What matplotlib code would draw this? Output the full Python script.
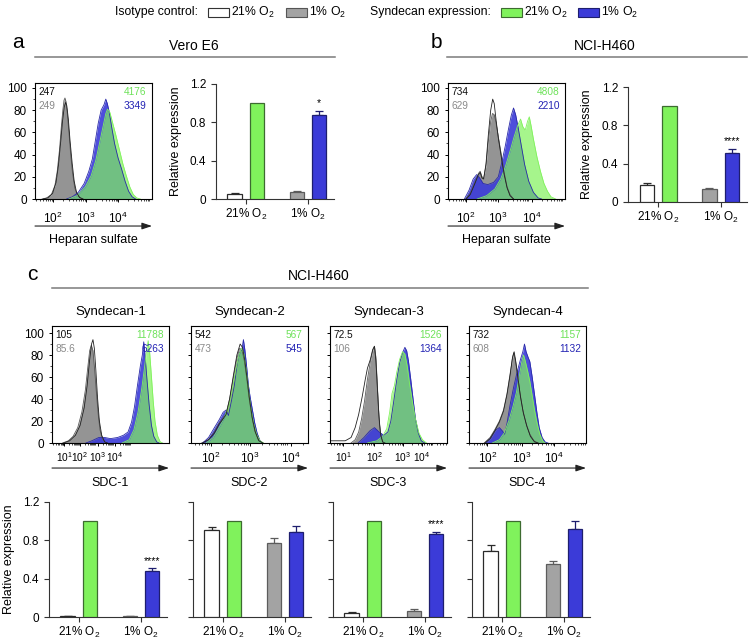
import numpy as np
import matplotlib
matplotlib.use("Agg")
import matplotlib.pyplot as plt
from matplotlib.lines import Line2D
from matplotlib.patches import Rectangle

plt.rcParams['font.family'] = ['Liberation Sans', 'DejaVu Sans']
plt.rcParams['mathtext.fontset'] = 'custom'
plt.rcParams['mathtext.rm'] = 'Liberation Sans'
plt.rcParams['mathtext.it'] = 'Liberation Sans:italic'
plt.rcParams['mathtext.bf'] = 'Liberation Sans:bold'
plt.rcParams['mathtext.default'] = 'regular'

W, H = 750, 641

# colours
GREEN = '#80f25c'
BLUE = '#3b3bd8'
GRAY = '#a3a3a3'
HIST_GRAY = '#8e8e8e'

# ---- flow histograms: (channel, % of max) ----
# panel a, Vero E6
vero_iso21 = [(70, 0), (110, 1), (150, 5), (180, 15), (200, 30), (220, 52), (235, 70), (250, 83),
              (262, 87), (272, 84), (285, 72), (300, 52), (318, 32), (335, 16), (355, 6),
              (380, 1.5), (410, 0)]
vero_iso1 = [(60, 0), (100, 1), (140, 4), (170, 12), (190, 25), (210, 45), (225, 65), (238, 80),
             (248, 89), (256, 91), (264, 88), (275, 78), (290, 60), (305, 40), (320, 24),
             (340, 10), (360, 4), (385, 1), (410, 0)]
vero_sdc21 = [(290, 0), (360, 3), (430, 11), (480, 21), (520, 35), (555, 52), (585, 67), (605, 77),
              (620, 81), (640, 78), (660, 70), (690, 58), (720, 45), (750, 32), (780, 21),
              (810, 11), (840, 4), (870, 1), (900, 0)]
vero_sdc1 = [(270, 0), (320, 2), (370, 6), (420, 14), (460, 25), (490, 36), (515, 52), (540, 68),
             (565, 80), (590, 85), (605, 90), (618, 86), (635, 78), (655, 65), (680, 50),
             (710, 37), (740, 27), (770, 16), (800, 7), (830, 2), (860, 0)]
vero_mfi = ['247', '249', '4176', '3349']
vero_ticks = [154, 436, 709]

# panel b, NCI-H460
h460_iso21 = [(155, 0), (190, 4), (230, 14), (260, 22), (275, 24), (290, 19), (305, 18), (325, 32),
              (345, 58), (365, 80), (382, 90), (395, 86), (410, 72), (430, 55), (455, 38),
              (480, 22), (505, 10), (530, 3), (560, 0)]
h460_iso1 = [(150, 0), (190, 5), (230, 15), (260, 23), (275, 25), (290, 20), (305, 19), (325, 30),
             (345, 52), (365, 70), (380, 77), (395, 76), (410, 69), (430, 56), (455, 40),
             (480, 24), (505, 11), (530, 4), (560, 0)]
h460_sdc21 = [(250, 0), (330, 3), (400, 9), (450, 18), (490, 29), (530, 43), (565, 56), (595, 66),
              (620, 72), (640, 65), (660, 62), (680, 70), (695, 74), (710, 66), (730, 54),
              (760, 38), (790, 25), (820, 14), (850, 7), (880, 2), (920, 0)]
h460_sdc1 = [(140, 0), (180, 8), (215, 18), (245, 22), (270, 19), (300, 14), (340, 13), (390, 15),
             (430, 20), (460, 33), (490, 48), (515, 62), (540, 75), (560, 82), (578, 76),
             (600, 64), (625, 49), (655, 31), (690, 16), (730, 6), (770, 1), (800, 0)]
h460_mfi = ['734', '629', '4808', '2210']
h460_ticks = [154, 427, 718]

# panel c, syndecans 1-4
sdc1_iso21 = [(100, 0), (150, 2), (200, 7), (240, 16), (275, 32), (300, 52), (320, 74), (338, 90),
              (350, 94), (362, 86), (375, 66), (390, 40), (405, 20), (425, 7), (450, 1), (475, 0)]
sdc1_iso1 = [(90, 0), (140, 2), (180, 6), (220, 14), (255, 28), (285, 48), (305, 68), (322, 84),
             (336, 89), (350, 84), (365, 66), (380, 45), (395, 26), (410, 12), (430, 4), (460, 0)]
sdc1_sdc21 = [(600, 0), (660, 3), (700, 12), (735, 28), (765, 48), (790, 68), (808, 84), (822, 93),
              (835, 82), (850, 60), (865, 38), (880, 20), (900, 7), (925, 1), (945, 0)]
sdc1_sdc1 = [(290, 0), (340, 2), (400, 5), (450, 5), (500, 4), (560, 5), (610, 7), (650, 10),
             (680, 19), (705, 33), (730, 52), (755, 70), (772, 80), (784, 92), (795, 80),
             (810, 60), (830, 35), (850, 16), (870, 6), (895, 1), (915, 0)]
sdc1_mfi = ['105', '85.6', '11788', '6263']
sdc1_ticks = [103, 239, 393, 538]

sdc2_iso21 = [(100, 0), (150, 3), (200, 9), (240, 17), (275, 22), (300, 26), (330, 40), (360, 60),
              (392, 80), (420, 90), (440, 87), (460, 75), (480, 58), (500, 40), (525, 22),
              (550, 10), (580, 2), (615, 0)]
sdc2_iso1 = [(90, 0), (150, 3), (200, 10), (240, 18), (275, 23), (300, 27), (330, 40), (360, 58),
             (390, 76), (415, 86), (435, 85), (455, 75), (475, 60), (495, 42), (520, 24),
             (545, 11), (575, 3), (610, 0)]
sdc2_sdc21 = [(130, 0), (190, 5), (240, 14), (280, 22), (320, 33), (355, 50), (385, 68), (410, 80),
              (432, 86), (450, 82), (470, 68), (490, 50), (510, 33), (535, 18), (560, 8),
              (590, 2), (620, 0)]
sdc2_sdc1 = [(100, 0), (150, 5), (200, 14), (240, 21), (275, 28), (300, 30), (320, 25), (345, 38),
             (370, 52), (395, 72), (415, 82), (435, 85), (448, 94), (460, 85), (475, 70),
             (490, 53), (505, 42), (525, 30), (545, 18), (565, 9), (590, 2), (615, 0)]
sdc2_mfi = ['542', '473', '567', '545']
sdc2_ticks = [168, 504, 852]

sdc3_iso21 = [(0, 7), (6, 2), (40, 2), (130, 2), (180, 5), (215, 14), (245, 26), (275, 42),
              (300, 57), (320, 68), (345, 76), (365, 85), (380, 88), (392, 75), (405, 50),
              (418, 25), (432, 8), (450, 1), (470, 0)]
sdc3_iso1 = [(180, 0), (215, 3), (245, 10), (270, 22), (295, 38), (320, 58), (345, 74), (365, 84),
             (380, 88), (392, 78), (402, 58), (412, 36), (422, 18), (435, 6), (455, 0)]
sdc3_sdc21 = [(320, 0), (400, 2), (450, 6), (485, 13), (510, 28), (530, 45), (550, 52), (570, 64),
              (595, 76), (620, 83), (640, 81), (660, 70), (680, 54), (705, 37), (730, 22),
              (760, 9), (790, 3), (825, 0)]
sdc3_sdc1 = [(240, 0), (290, 5), (340, 11), (380, 14), (420, 10), (460, 7), (495, 10), (520, 20),
             (545, 38), (570, 57), (595, 73), (620, 82), (640, 87), (655, 84), (670, 75),
             (690, 58), (710, 40), (730, 22), (755, 9), (780, 2), (810, 0)]
sdc3_mfi = ['72.5', '106', '1526', '1364']
sdc3_ticks = [114, 376, 624, 786]

sdc4_iso21 = [(135, 0), (180, 4), (220, 11), (260, 19), (295, 29), (325, 44), (352, 62), (372, 78),
              (386, 83), (400, 74), (420, 58), (440, 42), (465, 27), (495, 15), (525, 6),
              (560, 1), (590, 0)]
sdc4_iso1 = [(130, 0), (180, 5), (220, 12), (260, 20), (295, 30), (325, 45), (350, 62), (370, 76),
             (382, 82), (395, 76), (415, 62), (435, 46), (460, 30), (490, 17), (520, 8),
             (555, 2), (590, 0)]
sdc4_sdc21 = [(200, 0), (260, 3), (300, 9), (340, 20), (375, 33), (405, 46), (430, 61), (450, 73),
              (466, 80), (480, 75), (500, 66), (520, 56), (540, 43), (560, 30), (580, 19),
              (605, 8), (630, 2), (650, 0)]
sdc4_sdc1 = [(145, 0), (190, 5), (230, 12), (260, 14), (285, 11), (305, 8), (325, 18), (350, 34),
             (380, 50), (410, 64), (440, 76), (460, 83), (474, 90), (488, 83), (505, 78),
             (520, 74), (540, 60), (560, 44), (580, 28), (600, 14), (625, 5), (650, 1), (675, 0)]
sdc4_mfi = ['732', '608', '1157', '1132']
sdc4_ticks = [156, 450, 726]

# ---- relative expression bars: [21% O2, 1% O2] ----
vero_iso, vero_iso_err = [0.056, 0.07], [0.008, 0.01]
vero_sdc, vero_sdc_err = [1.0, 0.875], [0.0, 0.045]
vero_star = '*'
h460_iso, h460_iso_err = [0.174, 0.139], [0.022, 0.012]
h460_sdc, h460_sdc_err = [1.0, 0.51], [0.0, 0.045]
h460_star = '****'
sdc1_iso, sdc1_iso_err = [0.01, 0.01], [0.004, 0.004]
sdc1_sdc, sdc1_sdc_err = [1.0, 0.48], [0.0, 0.03]
sdc2_iso, sdc2_iso_err = [0.91, 0.776], [0.027, 0.052]
sdc2_sdc, sdc2_sdc_err = [1.0, 0.89], [0.0, 0.063]
sdc3_iso, sdc3_iso_err = [0.045, 0.065], [0.008, 0.022]
sdc3_sdc, sdc3_sdc_err = [1.0, 0.87], [0.0, 0.022]
sdc4_iso, sdc4_iso_err = [0.685, 0.557], [0.063, 0.027]
sdc4_sdc, sdc4_sdc_err = [1.0, 0.918], [0.0, 0.085]

conditions = ['21% O$_2$', '1% O$_2$']


def px_axes(fig, x0, y0, x1, y1):
    return fig.add_axes([x0 / W, 1 - y1 / H, (x1 - x0) / W, (y1 - y0) / H])


def fig_text(fig, x, y, s, **kw):
    kw.setdefault('va', 'center')
    fig.text(x / W, 1 - y / H, s, **kw)


def fig_line(fig, x0, x1, y):
    fig.add_artist(Line2D([x0 / W, x1 / W], [1 - y / H] * 2, color='#7a7a7a', lw=1.1,
                          transform=fig.transFigure))


def draw_hist(ax, iso21, iso1, sdc21, sdc1, mfi, ticks, first_exp, ytop, show_y,
              arrow_y, label_y, xlabel, pad, xsize=8.5):
    for data, fc, ec, alpha in [(iso1, HIST_GRAY, '#5a5a5a', 0.95),
                                (sdc1, BLUE, '#2a2aa8', 0.9),
                                (sdc21, GREEN, GREEN, 0.7)]:
        arr = np.array(data, dtype=float)
        ax.fill_between(arr[:, 0], arr[:, 1], color=fc, alpha=alpha, lw=0)
        ax.plot(arr[:, 0], arr[:, 1], color=ec, lw=0.6)
    arr = np.array(iso21, dtype=float)
    ax.plot(arr[:, 0], arr[:, 1], color='#222222', lw=0.6)
    ax.set_xlim(0, 1000)
    ax.set_ylim(0, ytop)
    ax.set_xticks(ticks)
    ax.set_xticklabels(['$10^{%d}$' % (first_exp + i) for i in range(len(ticks))])
    # log-style minor ticks between the decade labels
    step = ticks[1] - ticks[0]
    minors = []
    for t0 in [ticks[0] - step] + list(ticks):
        for k in range(2, 10):
            m = t0 + step * np.log10(k)
            if 0 < m < 1000:
                minors.append(m)
    ax.set_xticks(minors, minor=True)
    ax.set_yticks(range(0, 101, 20))
    ax.set_yticks(range(0, 101, 10), minor=True)
    if not show_y:
        ax.set_yticklabels([])
    ax.tick_params(axis='both', which='major', length=2.5, width=0.7, labelsize=8.5)
    ax.tick_params(axis='x', which='major', pad=pad, labelsize=xsize)
    ax.tick_params(axis='both', which='minor', length=1.5, width=0.5)
    for sp in ax.spines.values():
        sp.set_linewidth(0.8)
    ax.text(0.03, 0.925, mfi[0], transform=ax.transAxes, color='#111111', fontsize=7.3,
            ha='left', va='center')
    ax.text(0.03, 0.805, mfi[1], transform=ax.transAxes, color='#8a8a8a', fontsize=7.3,
            ha='left', va='center')
    ax.text(0.955, 0.925, mfi[2], transform=ax.transAxes, color='#6ee25a', fontsize=7.3,
            ha='right', va='center')
    ax.text(0.955, 0.805, mfi[3], transform=ax.transAxes, color='#2424b4', fontsize=7.3,
            ha='right', va='center')
    ax.annotate('', xy=(1.0, arrow_y), xytext=(0.0, arrow_y), xycoords='axes fraction',
                annotation_clip=False,
                arrowprops=dict(arrowstyle='-|>,head_length=0.6,head_width=0.2',
                                color='#222222', lw=0.8, shrinkA=0, shrinkB=0))
    ax.text(0.5, label_y, xlabel, transform=ax.transAxes, ha='center', va='center', fontsize=9)


def draw_bars(ax, iso, iso_err, sdc, sdc_err, star, show_y):
    x = np.arange(len(conditions))
    off, width = 0.18, 0.23
    ax.bar(x - off, iso, width, color=['white', GRAY], edgecolor=['#2a2a2a', '#5c5c5c'],
           linewidth=0.9, zorder=3)
    ax.bar(x + off, sdc, width, color=[GREEN, BLUE], edgecolor=['#3d6b30', '#1e1e6e'],
           linewidth=0.9, zorder=3)
    for xi, v, e, c in zip(x - off, iso, iso_err, ['#2a2a2a', '#5c5c5c']):
        ax.errorbar(xi, v, yerr=[[0], [e]], fmt='none', ecolor=c, capsize=3, elinewidth=0.9,
                    capthick=0.9, zorder=2)
    for xi, v, e, c in zip(x + off, sdc, sdc_err, ['#3d6b30', '#1e1e6e']):
        if e > 0:
            ax.errorbar(xi, v, yerr=[[0], [e]], fmt='none', ecolor=c, capsize=3,
                        elinewidth=0.9, capthick=0.9, zorder=2)
    if star:
        ax.text(x[1] + off, sdc[1] + sdc_err[1] + 0.025, star, ha='center', va='bottom',
                fontsize=7.5)
    ax.set_xlim(-0.48, 1.42)
    ax.set_ylim(0, 1.2)
    ax.set_xticks(x)
    ax.set_xticklabels(conditions)
    ax.set_yticks([0, 0.4, 0.8, 1.2])
    if show_y:
        ax.set_yticklabels(['0', '0.4', '0.8', '1.2'])
        ax.set_ylabel('Relative expression', fontsize=9)
        ax.yaxis.set_label_coords(-0.29, 0.5)
    else:
        ax.set_yticklabels([])
    ax.spines['top'].set_visible(False)
    ax.spines['right'].set_visible(False)
    for sp in ['left', 'bottom']:
        ax.spines[sp].set_linewidth(0.8)
        ax.spines[sp].set_color('#333333')
    ax.tick_params(axis='both', length=3.5, width=0.8, labelsize=8.5, color='#333333')
    ax.tick_params(axis='x', pad=2)


fig = plt.figure(figsize=(W / 100, H / 100), dpi=100)

# legend row
fig_text(fig, 115, 12, 'Isotype control:', fontsize=8.8)
fig_text(fig, 370, 12, 'Syndecan expression:', fontsize=8.8)
for x0, fc, ec, lab in [(208, 'white', '#333333', conditions[0]),
                        (286, GRAY, '#555555', conditions[1]),
                        (501, GREEN, '#3d6b30', conditions[0]),
                        (578, BLUE, '#1e1e6e', conditions[1])]:
    fig.add_artist(Rectangle((x0 / W, 1 - 17 / H), 21 / W, 9 / H, facecolor=fc, edgecolor=ec,
                             lw=0.8, transform=fig.transFigure))
    fig_text(fig, x0 + 23, 12, lab, fontsize=8.8)

# panel a
fig_text(fig, 12, 42, 'a', fontsize=15)
fig_text(fig, 194, 46, 'Vero E6', fontsize=10, ha='center')
fig_line(fig, 35, 335, 57)
ax = px_axes(fig, 35, 83, 152, 199)
draw_hist(ax, vero_iso21, vero_iso1, vero_sdc21, vero_sdc1, vero_mfi, vero_ticks, 2, 104.5,
          True, -0.233, -0.353, 'Heparan sulfate', 6)
ax = px_axes(fig, 216, 84, 334, 199)
draw_bars(ax, vero_iso, vero_iso_err, vero_sdc, vero_sdc_err, vero_star, True)

# panel b
fig_text(fig, 431, 42, 'b', fontsize=15)
fig_text(fig, 605, 46, 'NCI-H460', fontsize=10, ha='center')
fig_line(fig, 447, 747, 57)
ax = px_axes(fig, 448, 83, 565, 199)
draw_hist(ax, h460_iso21, h460_iso1, h460_sdc21, h460_sdc1, h460_mfi, h460_ticks, 2, 104.5,
          True, -0.233, -0.353, 'Heparan sulfate', 6)
ax = px_axes(fig, 628, 87, 747, 202)
draw_bars(ax, h460_iso, h460_iso_err, h460_sdc, h460_sdc_err, h460_star, True)

# panel c
fig_text(fig, 27, 274, 'c', fontsize=15)
fig_text(fig, 319, 276, 'NCI-H460', fontsize=10, ha='center')
fig_line(fig, 52, 588, 288)
hist_sets = [
    (sdc1_iso21, sdc1_iso1, sdc1_sdc21, sdc1_sdc1, sdc1_mfi, sdc1_ticks, 1),
    (sdc2_iso21, sdc2_iso1, sdc2_sdc21, sdc2_sdc1, sdc2_mfi, sdc2_ticks, 2),
    (sdc3_iso21, sdc3_iso1, sdc3_sdc21, sdc3_sdc1, sdc3_mfi, sdc3_ticks, 1),
    (sdc4_iso21, sdc4_iso1, sdc4_sdc21, sdc4_sdc1, sdc4_mfi, sdc4_ticks, 2),
]
bar_sets = [
    (sdc1_iso, sdc1_iso_err, sdc1_sdc, sdc1_sdc_err, '****'),
    (sdc2_iso, sdc2_iso_err, sdc2_sdc, sdc2_sdc_err, None),
    (sdc3_iso, sdc3_iso_err, sdc3_sdc, sdc3_sdc_err, '****'),
    (sdc4_iso, sdc4_iso_err, sdc4_sdc, sdc4_sdc_err, None),
]
hist_left = [52, 191, 330, 469]
bar_left = [49, 193, 333, 472]
for i in range(4):
    ax = px_axes(fig, hist_left[i], 326, hist_left[i] + 117, 443)
    iso21, iso1, s21, s1, mfi, ticks, e0 = hist_sets[i]
    tight = len(ticks) > 3
    draw_hist(ax, iso21, iso1, s21, s1, mfi, ticks, e0, 106.4, i == 0, -0.214, -0.342,
              'SDC-%d' % (i + 1), 3, 7.3 if tight else 8.5)
    ax.text(0.5, 1.12, 'Syndecan-%d' % (i + 1), transform=ax.transAxes, ha='center',
            va='center', fontsize=9.5)
    ax = px_axes(fig, bar_left[i], 502, bar_left[i] + 118, 617)
    draw_bars(ax, *bar_sets[i], i == 0)

fig.savefig('out.png', dpi=100)
